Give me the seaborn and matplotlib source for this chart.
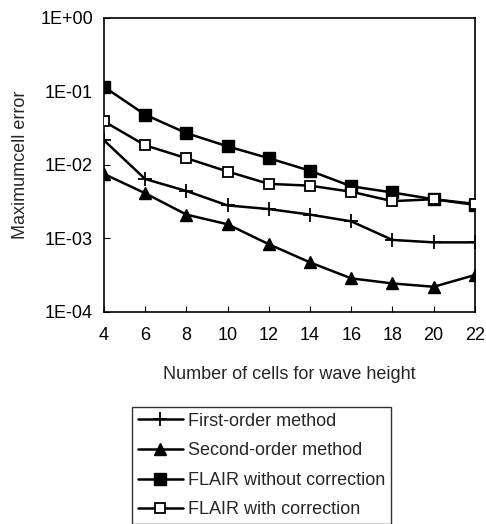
import matplotlib
matplotlib.use("Agg")
import matplotlib.pyplot as plt
import seaborn as sns
import pandas as pd
from matplotlib.ticker import FixedLocator, NullLocator

cells = [4, 6, 8, 10, 12, 14, 16, 18, 20, 22]
first_order = [0.0215, 0.0064, 0.0044, 0.0028, 0.0025, 0.0021, 0.0017, 0.00095, 0.00088, 0.00088]
second_order = [0.0075, 0.0041, 0.0021, 0.00155, 0.00083, 0.00047, 0.000285, 0.000243, 0.000219, 0.000316]
flair_without = [0.115, 0.048, 0.027, 0.0178, 0.0123, 0.0083, 0.0051, 0.0042, 0.0034, 0.00285]
flair_with = [0.039, 0.0184, 0.0123, 0.0081, 0.0055, 0.0052, 0.0043, 0.0032, 0.0034, 0.00294]
series_names = ["First-order method", "Second-order method",
                "FLAIR without correction", "FLAIR with correction"]
ytick_vals = [1e-4, 1e-3, 1e-2, 1e-1, 1e0]
ytick_labels = ["1E-04", "1E-03", "1E-02", "1E-01", "1E+00"]

sns.set_style("white")
plt.rcParams['font.family'] = ['Liberation Sans', 'DejaVu Sans']

fig = plt.figure(figsize=(4.86, 5.24), dpi=100)
ax = fig.add_axes([0.214, 0.405, 0.763, 0.561])

styles = {
    "First-order method": dict(marker="+", markersize=10, mew=1.3, mfc="black"),
    "Second-order method": dict(marker="^", markersize=8, mew=1.0, mfc="black"),
    "FLAIR without correction": dict(marker="s", markersize=8, mew=1.0, mfc="black"),
    "FLAIR with correction": dict(marker="s", markersize=7.5, mew=1.3, mfc="white"),
}
all_vals = [first_order, second_order, flair_without, flair_with]
handles = []
for name, vals in zip(series_names, all_vals):
    df = pd.DataFrame({"x": cells, "y": vals})
    st = styles[name]
    sns.lineplot(data=df, x="x", y="y", ax=ax, color="black", linewidth=1.8,
                 marker=st["marker"], markersize=st["markersize"],
                 markeredgewidth=st["mew"], markerfacecolor=st["mfc"],
                 markeredgecolor="black", label=name, legend=False, zorder=3)
    handles.append(ax.lines[-1])

ax.set_yscale("log")
ax.set_ylim(1e-4, 1e0)
ax.set_xlim(4, 22)
ax.set_xticks(cells)
ax.set_xticklabels([str(c) for c in cells])
ax.yaxis.set_major_locator(FixedLocator(ytick_vals))
ax.set_yticklabels(ytick_labels)
ax.yaxis.set_minor_locator(NullLocator())
ax.tick_params(axis="both", direction="in", length=4, width=0.8, labelsize=13,
               colors="black", bottom=True, left=True)
ax.tick_params(axis="y", pad=8)
ax.tick_params(axis="x", pad=11)
for sp in ax.spines.values():
    sp.set_color("black")
    sp.set_linewidth(1.2)
ax.set_xlabel("Number of cells for wave height", fontsize=13, labelpad=16)
ax.set_ylabel("Maximumcell error", fontsize=13, labelpad=8)
ax.grid(False)

leg = fig.legend(handles=handles, labels=series_names, loc="upper left",
                 bbox_to_anchor=(0.272, 0.223), frameon=True, fancybox=False,
                 fontsize=13, handlelength=2.5, handletextpad=0.3,
                 labelspacing=0.7, borderpad=0.3, borderaxespad=0)
leg.get_frame().set_edgecolor("black")
leg.get_frame().set_linewidth(1.0)

fig.savefig("out.png", dpi=100)
